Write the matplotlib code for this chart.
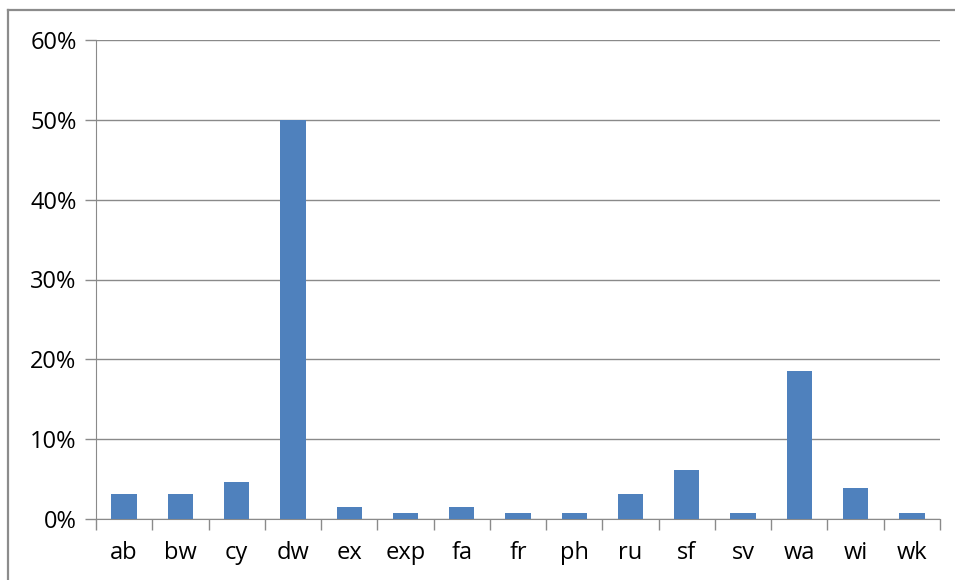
import matplotlib.pyplot as plt
from matplotlib.lines import Line2D
from matplotlib.ticker import PercentFormatter, FixedLocator, NullFormatter

# categorias e valores (%)
categories = ['ab', 'bw', 'cy', 'dw', 'ex', 'exp', 'fa', 'fr', 'ph', 'ru', 'sf', 'sv', 'wa', 'wi', 'wk']
values = [3.1, 3.1, 4.6, 50.0, 1.5, 0.77, 1.5, 0.77, 0.77, 3.1, 6.15, 0.77, 18.6, 3.85, 0.77]
yticks = [0, 10, 20, 30, 40, 50, 60]

plt.rcParams['font.family'] = ['Open Sans', 'DejaVu Sans']

fig = plt.figure(figsize=(9.55, 5.8), dpi=100)
# moldura externa (só topo e lado esquerdo visíveis)
fig.lines.append(Line2D([8 / 955, 8 / 955], [0, 1 - 10 / 580], transform=fig.transFigure,
                        color='#8c8c8c', linewidth=1.6))
fig.lines.append(Line2D([8 / 955, 1], [1 - 10 / 580, 1 - 10 / 580], transform=fig.transFigure,
                        color='#8c8c8c', linewidth=1.6))

ax = fig.add_axes([96 / 955, 61 / 580, (940 - 96) / 955, (519 - 40) / 580])
x = range(len(categories))
ax.bar(x, values, width=0.45, color='#4F81BD', zorder=3)

ax.set_xlim(-0.5, len(categories) - 0.5)
ax.set_ylim(0, 60)
ax.set_yticks(yticks)
ax.yaxis.set_major_formatter(PercentFormatter(decimals=0))
ax.grid(axis='y', color='#8a8a8a', linewidth=1, zorder=0)

ax.set_xticks(list(x))
ax.set_xticklabels(categories)
ax.tick_params(axis='x', which='major', length=0, pad=16, labelsize=17, labelcolor='#000000')
ax.xaxis.set_minor_locator(FixedLocator([i - 0.5 for i in range(len(categories) + 1)]))
ax.xaxis.set_minor_formatter(NullFormatter())
ax.tick_params(axis='x', which='minor', length=8, color='#8a8a8a', width=1)
ax.tick_params(axis='y', length=8, color='#8a8a8a', width=1, pad=6, labelsize=17)

for side in ['top', 'right']:
    ax.spines[side].set_visible(False)
ax.spines['left'].set_color('#8a8a8a')
ax.spines['bottom'].set_color('#8a8a8a')

plt.savefig('out.png', dpi=100)
